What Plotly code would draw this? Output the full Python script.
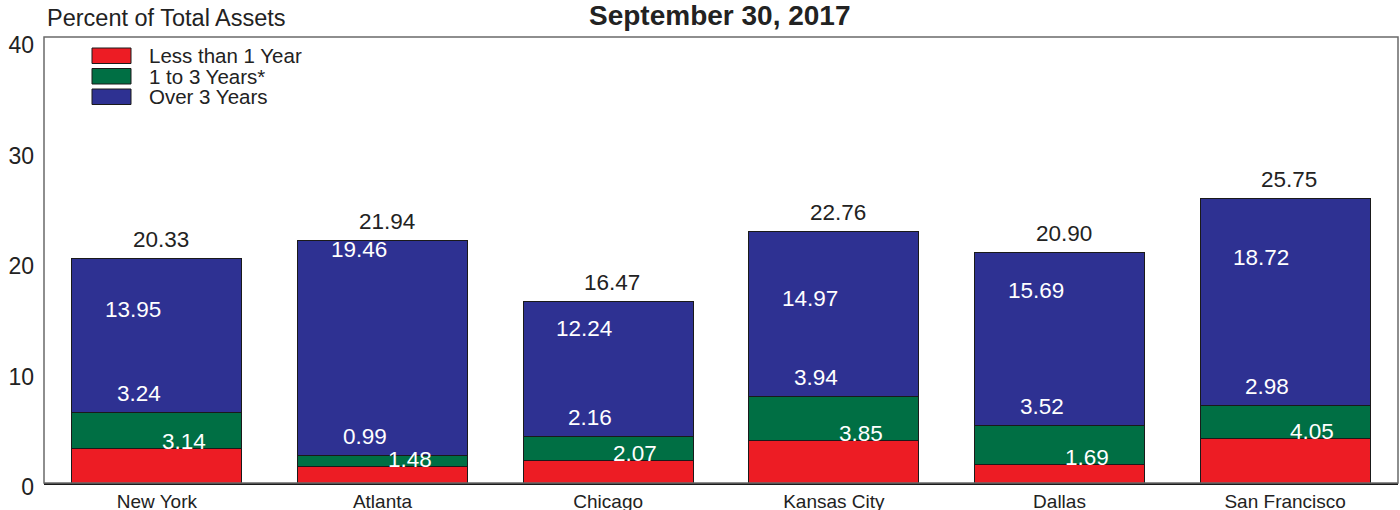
import plotly.graph_objects as go

# ---- data ----
categories = ["New York", "Atlanta", "Chicago", "Kansas City", "Dallas", "San Francisco"]
less_1yr = [3.14, 1.48, 2.07, 3.85, 1.69, 4.05]
yrs_1_3 = [3.24, 0.99, 2.16, 3.94, 3.52, 2.98]
over_3yr = [13.95, 19.46, 12.24, 14.97, 15.69, 18.72]
totals = [20.33, 21.94, 16.47, 22.76, 20.90, 25.75]
series_names = ["Less than 1 Year", "1 to 3 Years*", "Over 3 Years"]
y_ticks = [0, 10, 20, 30, 40]

# ---- style ----
FONT = "Liberation Sans, Arial, Helvetica, sans-serif"
RED, GREEN, BLUE = "#ED1C24", "#006F44", "#2E3192"
colors = [RED, GREEN, BLUE]
W, H = 1400, 510
ML, MR, MT, MB = 44, 2, 37, 27

fig = go.Figure()
for name, vals, col in zip(series_names, [less_1yr, yrs_1_3, over_3yr], colors):
    fig.add_trace(go.Bar(
        x=categories, y=vals, name=name, marker_color=col,
        marker_line=dict(color="#1a1a1a", width=1), showlegend=False,
        hoverinfo="x+y+name"))

annotations = []
# value labels (placed as in the original chart)
green_cum = [a + b for a, b in zip(less_1yr, yrs_1_3)]
LBL = 22.5
for i, c in enumerate(categories):
    annotations.append(dict(x=c, y=totals[i], text=f"{totals[i]:.2f}", showarrow=False,
                            xshift=4, yshift=19, font=dict(size=LBL, color="#222222", family=FONT)))
    annotations.append(dict(x=c, y=over_3yr[i], text=f"{over_3yr[i]:.2f}", showarrow=False,
                            xshift=-24, yshift=19, font=dict(size=LBL, color="white", family=FONT)))
    annotations.append(dict(x=c, y=green_cum[i], text=f"{yrs_1_3[i]:.2f}", showarrow=False,
                            xshift=-18, yshift=19, font=dict(size=LBL, color="white", family=FONT)))
    annotations.append(dict(x=c, y=less_1yr[i], text=f"{less_1yr[i]:.2f}", showarrow=False,
                            xshift=27, yshift=7, font=dict(size=LBL, color="white", family=FONT)))

# helpers to convert pixel positions to paper coords
PW = W - ML - MR
PH = H - MT - MB
def px_x(px):
    return (px - ML) / PW
def px_y(py):
    return (H - MB - py) / PH

shapes = []
# manual legend
for k, (name, col) in enumerate(zip(series_names, colors)):
    top = 48 + k * 20.5
    shapes.append(dict(type="rect", xref="paper", yref="paper",
                       x0=px_x(92), x1=px_x(131), y0=px_y(top + 15.5), y1=px_y(top),
                       fillcolor=col, line=dict(color="#1a1a1a", width=1)))
    annotations.append(dict(xref="paper", yref="paper", x=px_x(147), y=px_y(top + 7.5),
                            xanchor="left", yanchor="middle", text=name, showarrow=False,
                            font=dict(size=20.5, color="#222222", family=FONT)))

# frame
shapes.append(dict(type="rect", xref="paper", yref="paper", x0=0, x1=1, y0=0, y1=1,
                   line=dict(color="#6a6a6a", width=1.5), layer="above"))

# titles
annotations.append(dict(xref="paper", yref="paper", x=px_x(720), y=px_y(16), xanchor="center",
                        yanchor="middle", text="<b>September 30, 2017</b>", showarrow=False,
                        font=dict(size=28, color="#222222", family=FONT)))
annotations.append(dict(xref="paper", yref="paper", x=px_x(45), y=px_y(18), xanchor="left",
                        yanchor="middle", text="Percent of Total Assets", showarrow=False,
                        font=dict(size=23.5, color="#222222", family=FONT)))

fig.update_layout(
    width=W, height=H,
    margin=dict(l=ML, r=MR, t=MT, b=MB, pad=0, autoexpand=False),
    barmode="stack", bargap=0.247,
    plot_bgcolor="white", paper_bgcolor="white",
    font=dict(family=FONT, color="#222222"),
    annotations=annotations, shapes=shapes,
    xaxis=dict(showgrid=False, showline=True, linecolor="#1a1a1a", linewidth=1.5,
               ticks="", tickfont=dict(size=19, color="#222222"), zeroline=False,
               automargin=False),
    yaxis=dict(range=[0, 40.37], tickvals=y_ticks, showgrid=False, zeroline=False,
               showline=False, ticks="", ticklabelstandoff=9, ticklabelshift=4,
               automargin=False, tickfont=dict(size=23, color="#222222")),
)

fig.write_html(
    "out.html",
    config={"displayModeBar": False},
    post_script="document.body.style.margin='0';document.body.style.overflow='hidden';",
)
